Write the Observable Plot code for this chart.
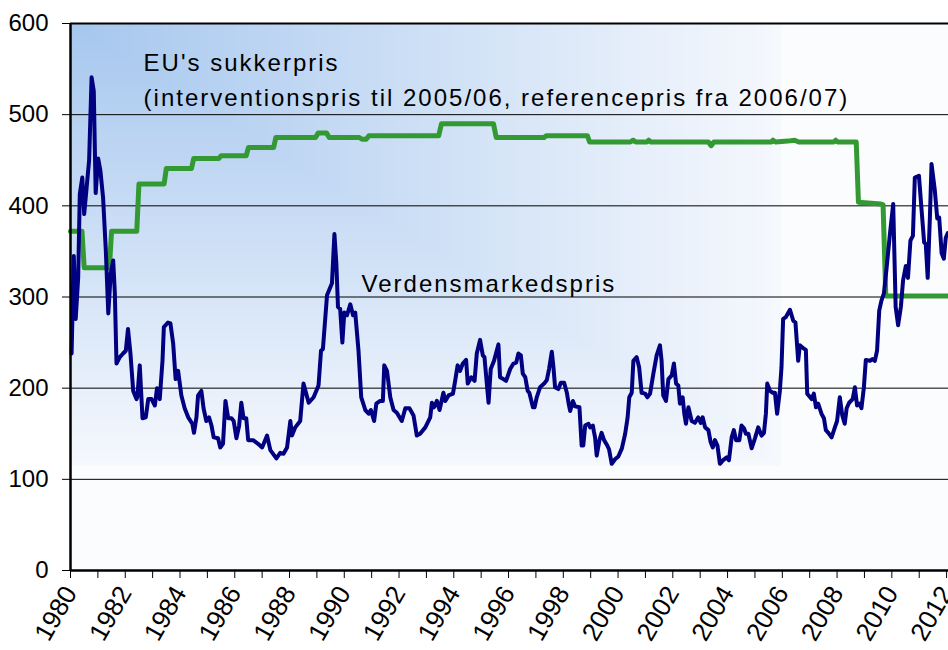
<!DOCTYPE html>
<html><head><meta charset="utf-8">
<script src="https://cdn.jsdelivr.net/npm/d3@7"></script>
<script src="https://cdn.jsdelivr.net/npm/@observablehq/plot@0.6"></script>
<style>
html,body{margin:0;padding:0;background:#fff;}
#chart{width:948px;height:650px;overflow:hidden;}
svg text{font-family:"Liberation Sans",Arial,sans-serif;}
</style></head><body><div id="chart"></div>
<script>
// World market price (Verdensmarkedspris), approx. monthly readings
const worldYear = [1980.04,1980.12,1980.19,1980.28,1980.34,1980.43,1980.50,1980.58,1980.68,1980.77,1980.85,1980.92,1981.01,1981.09,1981.19,1981.29,1981.38,1981.47,1981.56,1981.62,1981.68,1981.80,1981.92,1982.02,1982.10,1982.19,1982.29,1982.41,1982.44,1982.53,1982.63,1982.75,1982.84,1982.96,1983.08,1983.16,1983.26,1983.36,1983.41,1983.56,1983.65,1983.75,1983.84,1983.93,1984.05,1984.17,1984.30,1984.45,1984.51,1984.60,1984.66,1984.78,1984.86,1984.96,1985.06,1985.15,1985.23,1985.39,1985.47,1985.57,1985.66,1985.76,1985.88,1985.96,1986.06,1986.16,1986.24,1986.32,1986.42,1986.49,1986.67,1986.85,1987.00,1987.18,1987.30,1987.52,1987.66,1987.78,1987.91,1988.03,1988.09,1988.21,1988.39,1988.51,1988.70,1988.88,1989.06,1989.15,1989.22,1989.37,1989.55,1989.64,1989.71,1989.77,1989.85,1989.93,1990.00,1990.10,1990.22,1990.32,1990.40,1990.52,1990.62,1990.77,1990.89,1990.97,1991.09,1991.17,1991.31,1991.41,1991.46,1991.56,1991.68,1991.80,1991.92,1992.10,1992.23,1992.38,1992.53,1992.65,1992.77,1992.96,1993.14,1993.20,1993.28,1993.38,1993.48,1993.62,1993.69,1993.81,1993.97,1994.05,1994.14,1994.23,1994.33,1994.45,1994.51,1994.64,1994.76,1994.84,1994.96,1995.06,1995.12,1995.27,1995.35,1995.47,1995.63,1995.69,1995.81,1995.91,1996.06,1996.18,1996.28,1996.36,1996.45,1996.52,1996.61,1996.70,1996.76,1996.89,1996.95,1997.03,1997.15,1997.30,1997.40,1997.48,1997.58,1997.64,1997.70,1997.82,1997.91,1998.03,1998.13,1998.19,1998.25,1998.35,1998.43,1998.59,1998.67,1998.73,1998.80,1998.92,1998.98,1999.08,1999.12,1999.16,1999.22,1999.32,1999.40,1999.49,1999.59,1999.67,1999.77,1999.89,2000.01,2000.14,2000.26,2000.35,2000.41,2000.50,2000.56,2000.68,2000.77,2000.86,2000.99,2001.07,2001.17,2001.29,2001.41,2001.53,2001.59,2001.65,2001.75,2001.84,2001.96,2002.04,2002.12,2002.20,2002.26,2002.36,2002.42,2002.48,2002.57,2002.69,2002.81,2002.93,2003.02,2003.09,2003.18,2003.30,2003.38,2003.46,2003.54,2003.63,2003.72,2003.84,2003.97,2004.05,2004.15,2004.23,2004.31,2004.43,2004.51,2004.60,2004.67,2004.76,2004.88,2005.00,2005.12,2005.24,2005.33,2005.40,2005.45,2005.55,2005.65,2005.73,2005.81,2005.91,2005.97,2006.03,2006.13,2006.28,2006.40,2006.48,2006.58,2006.64,2006.76,2006.86,2006.91,2007.07,2007.15,2007.23,2007.31,2007.43,2007.52,2007.59,2007.68,2007.80,2007.92,2008.00,2008.10,2008.19,2008.28,2008.35,2008.44,2008.57,2008.65,2008.73,2008.81,2008.89,2008.98,2009.05,2009.20,2009.29,2009.38,2009.46,2009.54,2009.62,2009.71,2009.81,2009.93,2010.05,2010.14,2010.23,2010.33,2010.41,2010.51,2010.59,2010.68,2010.77,2010.84,2010.99,2011.08,2011.18,2011.24,2011.31,2011.39,2011.45,2011.57,2011.66,2011.73,2011.82,2011.90,2011.97,2012.04];
const worldValue = [238,345,276,321,413,431,391,417,450,541,526,414,452,439,409,351,282,326,340,304,227,234,238,241,265,238,197,188,190,225,167,168,188,188,181,200,188,230,267,272,271,249,210,219,192,178,168,161,151,168,192,197,178,164,168,159,146,145,135,139,186,167,167,164,145,159,184,167,167,143,143,139,135,148,132,123,129,128,135,164,148,157,164,205,184,190,203,241,243,302,315,369,337,289,287,250,283,280,292,280,283,241,190,176,172,176,164,183,186,186,225,219,190,176,173,164,178,178,170,148,150,157,168,184,179,186,176,195,186,192,194,208,225,219,227,231,205,212,208,238,253,236,234,184,221,230,248,212,210,208,221,227,228,238,236,216,212,197,195,179,179,190,201,205,209,221,240,223,201,199,206,206,195,184,175,186,180,179,137,137,159,161,157,159,152,146,126,143,151,143,138,133,117,122,125,134,150,168,190,195,230,234,223,195,194,190,194,216,236,247,230,192,186,210,214,227,205,203,183,190,172,161,179,164,162,168,162,168,157,154,141,135,143,137,117,121,124,121,146,154,143,143,159,156,150,150,134,145,157,148,151,172,205,197,195,195,172,197,223,276,278,286,274,272,230,247,244,242,194,188,194,179,183,172,167,154,151,146,157,164,190,170,161,178,184,188,201,181,183,178,201,231,230,232,230,241,285,296,304,332,369,402,289,269,289,318,334,321,362,367,431,433,398,360,358,321,387,446,417,386,387,348,342,365,370];

// EU sugar price (intervention / reference price)
const euYear = [1980.0,1980.42,1980.5,1981.42,1981.5,1982.42,1982.5,1983.42,1983.5,1984.42,1984.5,1985.42,1985.5,1986.42,1986.5,1987.42,1987.5,1988.95,1989.05,1989.35,1989.45,1990.55,1990.65,1990.8,1990.9,1993.45,1993.55,1995.45,1995.55,1997.3,1997.38,1998.88,1998.96,2000.45,2000.55,2000.65,2001.05,2001.12,2001.2,2003.3,2003.4,2003.5,2005.6,2005.66,2005.75,2006.2,2006.45,2006.6,2007.88,2007.95,2008.02,2008.7,2008.78,2009.6,2009.68,2009.78,2012.07];
const euValue = [372,372,332,332,372,372,424,424,441,441,452,452,455,455,464,464,475,475,480,480,475,475,473,473,477,477,490,490,475,475,477,477,470,470,472,470,470,472,470,470,466,470,470,472,470,471,472,470,470,472,470,470,404,402,401,301,301];

const yTicks = [0,100,200,300,400,500,600];
const xTickYears = d3.range(1980, 2013);
const xLabelYears = d3.range(1980, 2013, 2);

const labelText = ["EU's sukkerpris", "(interventionspris til 2005/06, referencepris fra 2006/07)", "Verdensmarkedspris"];
const labelYear = [1982.67, 1982.67, 1990.63];
const labelValue = [548, 510, 305];

const world = worldYear.map((y, i) => ({year: y, value: worldValue[i]}));
const eu = euYear.map((y, i) => ({year: y, value: euValue[i]}));
const labels = labelText.map((t, i) => ({text: t, year: labelYear[i], value: labelValue[i]}));

const W = 948, H = 650, mL = 70, mR = 0, mT = 23, mB = 80;

const plot = Plot.plot({
  width: W, height: H,
  marginLeft: mL, marginRight: mR, marginTop: mT, marginBottom: mB,
  style: {fontFamily: '"Liberation Sans", Arial, sans-serif', fontSize: "24px", color: "#000", background: "transparent"},
  x: {domain: [1980, 2012.07], axis: null},
  y: {domain: [0, 600], axis: null},
  marks: [
    Plot.ruleY(yTicks.filter(d => d > 0 && d < 600), {stroke: "#000", strokeWidth: 1}),
    Plot.line(eu, {x: "year", y: "value", stroke: "#339933", strokeWidth: 5, strokeLinejoin: "round", curve: "linear"}),
    Plot.line(world, {x: "year", y: "value", stroke: "#000080", strokeWidth: 4, strokeLinejoin: "round", curve: "linear"}),
    Plot.ruleY([600], {stroke: "#000", strokeWidth: 2}),
    Plot.ruleY([0], {stroke: "#000", strokeWidth: 2.5}),
    Plot.ruleX([1980], {stroke: "#000", strokeWidth: 2.5}),
    Plot.axisY({ticks: yTicks, tickSize: 8, tickPadding: 14, fontSize: 24, label: null, tickFormat: d => String(d)}),
    Plot.axisX({ticks: xTickYears, tickSize: 8, label: null, tickFormat: () => ""}),
    Plot.axisX({ticks: xLabelYears, tickSize: 0, tickPadding: 18, tickRotate: -60, fontSize: 26, label: null, tickFormat: d => String(d)}),
    Plot.text(labels, {x: "year", y: "value", text: "text", textAnchor: "start", lineAnchor: "bottom", fontSize: 24, fill: "#000"})
  ]
});

document.getElementById("chart").appendChild(plot);

// Corner gradient background of the plotting area (Excel "from corner" style)
const svg = d3.select(plot);
const bg = svg.insert("g", "g");
const pw = W - mL - mR, ph = H - mT - mB;
const n = 160;
const interp = d3.interpolateRgb("#a6c7ee", "#f5f8fd");
bg.append("rect").attr("x", mL).attr("y", mT).attr("width", pw).attr("height", ph).attr("fill", "#fbfcfe");
for (let i = n; i >= 1; i--) {
  const s = i / n * 0.81;
  bg.append("rect").attr("x", mL).attr("y", mT)
    .attr("width", s * pw).attr("height", s * ph)
    .attr("fill", interp(s / 0.81));
}
svg.selectAll("g[aria-label='text'] text").style("letter-spacing", "2px");
</script></body></html>
